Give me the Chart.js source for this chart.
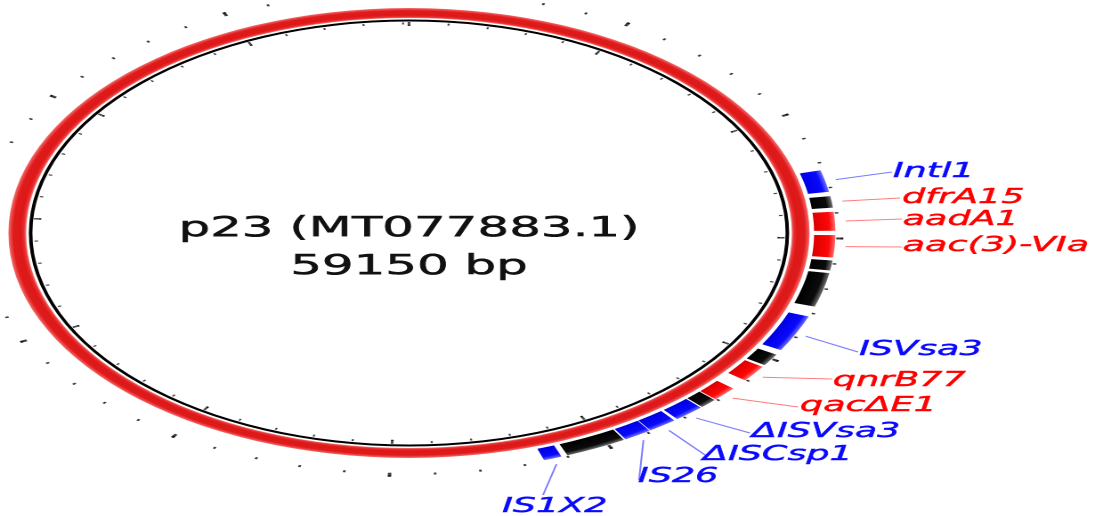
<!DOCTYPE html>
<html><head><meta charset="utf-8">
<script src="https://cdn.jsdelivr.net/npm/chart.js@4.4.1/dist/chart.umd.min.js"></script>
<style>
html,body{margin:0;padding:0;background:#fff;overflow:hidden;width:1095px;height:516px;}
#wrap{position:absolute;left:0;top:0;width:615px;height:516px;transform:scaleX(1.780488);transform-origin:0 0;}
</style></head><body>
<div id="wrap"><canvas id="c"></canvas></div>
<script>
// ---------------- data ----------------
const plasmidName = 'p23 (MT077883.1)';
const lengthLabel = '59150 bp';
const plasmidLength = 59150;
const minorTickStep = 1000;
const majorTickStep = 5000;

const featureStarts = [12290, 13330, 13950, 14870, 15870, 16370, 18140, 19800, 20370, 21440, 22050, 22480, 23250, 23930, 24600, 26130];
const featureEnds   = [13160, 13790, 14700, 15750, 16270, 17730, 19600, 20290, 21030, 22020, 22440, 23170, 23910, 24560, 25990, 26540];
const featureKinds  = ['mobile','other','resistance','resistance','other','other','mobile','other','resistance','resistance','other','mobile','mobile','mobile','other','mobile'];

const labelTexts   = ['Intl1','dfrA15','aadA1','aac(3)-VIa','ISVsa3','qnrB77','qac\u0394E1','\u0394ISVsa3','\u0394ISCsp1','IS26','IS1X2'];
const labelFeature = [0, 1, 2, 3, 6, 8, 9, 11, 12, 13, 15];
const labelKinds   = ['mobile','resistance','resistance','resistance','mobile','resistance','resistance','mobile','mobile','mobile','mobile'];

// ---------------- layout / style ----------------
const labelLayout = [ // [lineEndX, lineEndY, textX, textBaselineY] in canvas px
  [501, 172, 501.5, 177],
  [505.5, 198, 506.6, 203],
  [506.6, 219, 507, 225],
  [506.6, 247, 507, 251],
  [481.9, 352, 482.5, 355],
  [467.3, 379, 467.8, 386],
  [448.2, 407, 449.3, 411],
  [421.2, 433, 422.3, 437],
  [396, 455, 394.8, 460],
  [358.9, 480, 358.3, 482],
  [305, 495, 282, 512]
];
const textColors = {mobile:'#0a0aff', resistance:'#ff0000'};
const lineColors = {mobile:'rgba(70,70,255,0.7)', resistance:'rgba(255,70,70,0.7)'};
const palette = {
  mobile: ['#0000e0', '#0a0aff', '#7070ff'],
  resistance: ['#dd0000', '#ff0808', '#ff7070'],
  other: ['#000000', '#0c0c0c', '#707070']
};
const CLEAR = 'rgba(0,0,0,0)';

// radial bands (px), outer -> inner
const OUTER_R = 244, INNER_R = 207;
const FEAT_R = [227.5, 239.5];
const BACKBONE_R = [215, 225];

function buildRing(intervals, total) {
  intervals.sort((a,b)=>a.s-b.s);
  const data=[], colors=[], kinds=[], src=[];
  let pos=0;
  intervals.forEach(iv=>{
    if (iv.s > pos) { data.push(iv.s-pos); colors.push(CLEAR); kinds.push(null); src.push(-1); }
    data.push(iv.e-iv.s); colors.push(iv.color); kinds.push(iv.kind||null); src.push(iv.id===undefined?-1:iv.id);
    pos = iv.e;
  });
  if (pos < total) { data.push(total-pos); colors.push(CLEAR); kinds.push(null); src.push(-1); }
  return {data, colors, kinds, src};
}
function tickIntervals(step, halfW, color, onlyMajor) {
  const out=[];
  for (let p=0; p<plasmidLength; p+=step) {
    const major = (p % majorTickStep === 0);
    if (onlyMajor && !major) continue;
    const w = major ? halfW[1] : halfW[0];
    const s=p-w, e=p+w;
    if (s<0) { out.push({s:0,e:e,color}); out.push({s:plasmidLength+s,e:plasmidLength,color}); }
    else out.push({s,e,color});
  }
  return out;
}

const featRing = buildRing(featureStarts.map((s,i)=>({s, e:featureEnds[i], color:'x', kind:featureKinds[i], id:i})), plasmidLength);
const outerMajor = buildRing(tickIntervals(majorTickStep,[28,38],'#1a1a1a',true), plasmidLength);
const outerAll   = buildRing(tickIntervals(minorTickStep,[28,38],'#3a3a3a',false), plasmidLength);
const innerMajor = buildRing(tickIntervals(majorTickStep,[26,34],'#1a1a1a',true), plasmidLength);
const innerAll   = buildRing(tickIntervals(minorTickStep,[26,34],'#4a4a4a',false), plasmidLength);

function centerOf(chart){ const a=chart.chartArea; return [(a.left+a.right)/2,(a.top+a.bottom)/2]; }
function featureFill(c) {
  const kind = featRing.kinds[c.dataIndex];
  if (!kind) return CLEAR;
  const chart=c.chart; if(!chart.chartArea) return palette[kind][1];
  const [cx,cy]=centerOf(chart);
  if (!isFinite(cx) || !isFinite(cy)) return palette[kind][1];
  const g = chart.ctx.createRadialGradient(cx,cy,FEAT_R[0],cx,cy,FEAT_R[1]);
  g.addColorStop(0, palette[kind][0]); g.addColorStop(0.72, palette[kind][1]); g.addColorStop(1, palette[kind][2]);
  return g;
}
function backboneFill(c) {
  const chart=c.chart; if(!chart.chartArea) return '#e01a1a';
  const [cx,cy]=centerOf(chart);
  if (!isFinite(cx) || !isFinite(cy)) return '#e01a1a';
  const g = chart.ctx.createRadialGradient(cx,cy,BACKBONE_R[0],cx,cy,BACKBONE_R[1]);
  g.addColorStop(0, '#f27a7a'); g.addColorStop(0.12, '#e83030'); g.addColorStop(0.3, '#dd1818');
  g.addColorStop(0.72, '#e01b1b'); g.addColorStop(0.86, '#ec4242'); g.addColorStop(1, '#f47070');
  return g;
}

function ds(data, color, weight) {
  return {data, backgroundColor: color, weight, borderWidth:0, clip:false, hoverOffset:0};
}
const datasets = [
  ds(outerMajor.data, outerMajor.colors, 2),
  ds(outerAll.data, outerAll.colors, 2),
  ds([plasmidLength], CLEAR, 240 - FEAT_R[1]),
  ds(featRing.data, featureFill, FEAT_R[1]-FEAT_R[0]),
  ds([plasmidLength], CLEAR, FEAT_R[0]-BACKBONE_R[1]),
  ds([plasmidLength], backboneFill, BACKBONE_R[1]-BACKBONE_R[0]),
  ds([plasmidLength], CLEAR, 1.5),
  ds([plasmidLength], '#000000', 2),
  ds([plasmidLength], CLEAR, 0.5),
  ds(innerMajor.data, innerMajor.colors, 0.5),
  ds(innerAll.data, innerAll.colors, 2),
  ds(innerMajor.data, innerMajor.colors, 1.5)
];
const FEATURE_DS = 3;

const annotPlugin = {
  id:'annot',
  afterDatasetsDraw(chart) {
    const ctx = chart.ctx;
    const [cx,cy] = centerOf(chart);
    ctx.save();
    ctx.fillStyle = '#111';
    ctx.strokeStyle = '#111';
    ctx.lineWidth = 0.5;
    ctx.font = '28px "DejaVu Sans"';
    ctx.textAlign = 'center'; ctx.textBaseline = 'alphabetic';
    ctx.fillText(plasmidName, cx, 236); ctx.strokeText(plasmidName, cx, 236);
    ctx.fillText(lengthLabel, cx, 274); ctx.strokeText(lengthLabel, cx, 274);
    const fMeta = chart.getDatasetMeta(FEATURE_DS);
    const rLead = OUTER_R + 1.5;
    ctx.font = 'italic 20.5px "DejaVu Sans"';
    ctx.textAlign = 'left';
    labelTexts.forEach((t,i)=>{
      const seg = featRing.src.indexOf(labelFeature[i]);
      const el = fMeta.data[seg];
      const mid = (el.startAngle + el.endAngle)/2;
      const x0 = el.x + Math.cos(mid)*rLead, y0 = el.y + Math.sin(mid)*rLead;
      const L = labelLayout[i];
      ctx.strokeStyle = lineColors[labelKinds[i]];
      ctx.lineWidth = 1;
      ctx.beginPath(); ctx.moveTo(x0,y0); ctx.lineTo(L[0],L[1]); ctx.stroke();
      ctx.fillStyle = textColors[labelKinds[i]];
      ctx.strokeStyle = textColors[labelKinds[i]];
      ctx.lineWidth = 0.45;
      ctx.fillText(t, L[2], L[3]);
      ctx.strokeText(t, L[2], L[3]);
    });
    ctx.restore();
  }
};

new Chart(document.getElementById('c'), {
  type:'doughnut',
  data:{ labels: featRing.data.map((_,i)=>String(i)), datasets },
  options:{
    responsive:true, maintainAspectRatio:false, animation:false, devicePixelRatio:2,
    events:[],
    radius: OUTER_R,
    cutout: (INNER_R/OUTER_R*100)+'%',
    rotation:0, circumference:360,
    layout:{padding:{left:0, top:0, right:615-459.4, bottom:50}},
    plugins:{legend:{display:false}, tooltip:{enabled:false}, title:{display:false}}
  },
  plugins:[annotPlugin]
});
</script>
</body></html>
